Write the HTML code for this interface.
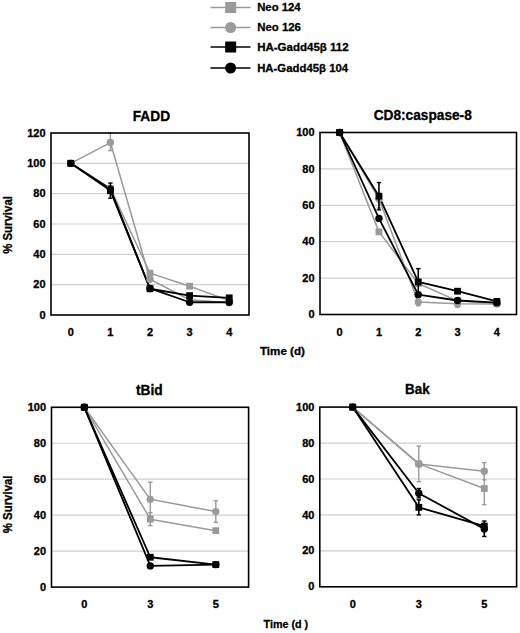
<!DOCTYPE html>
<html><head><meta charset="utf-8"><style>
html,body{margin:0;padding:0;background:#fff;}
body{width:520px;height:633px;overflow:hidden;}
svg{display:block;}
text{font-family:"Liberation Sans",sans-serif;font-weight:bold;fill:#000;stroke:#000;stroke-width:0.3px;}
.t{font-size:10px;}
.ti{font-size:13.4px;}
.ax{font-size:11px;}
.lg{font-size:11px;}
</style></head><body>
<svg width="520" height="633" viewBox="0 0 520 633">
<rect width="520" height="633" fill="#fff"/>
<line x1="51" x2="249" y1="284.67" y2="284.67" stroke="#cfcfcf" stroke-width="1.2"/>
<line x1="51" x2="249" y1="254.33" y2="254.33" stroke="#cfcfcf" stroke-width="1.2"/>
<line x1="51" x2="249" y1="224.00" y2="224.00" stroke="#cfcfcf" stroke-width="1.2"/>
<line x1="51" x2="249" y1="193.67" y2="193.67" stroke="#cfcfcf" stroke-width="1.2"/>
<line x1="51" x2="249" y1="163.33" y2="163.33" stroke="#cfcfcf" stroke-width="1.2"/>
<polyline points="70.80,163.33 110.40,188.36 150.00,273.14 189.60,286.18 229.20,300.59" fill="none" stroke="#9a9a9a" stroke-width="1.5" stroke-linejoin="round"/>
<polyline points="70.80,163.33 110.40,142.55 150.00,279.21 189.60,299.83 229.20,302.87" fill="none" stroke="#9a9a9a" stroke-width="1.5" stroke-linejoin="round"/>
<polyline points="70.80,163.33 110.40,190.63 150.00,288.76 189.60,295.59 229.20,297.86" fill="none" stroke="#000" stroke-width="1.8" stroke-linejoin="round"/>
<polyline points="70.80,163.33 110.40,189.12 150.00,288.46 189.60,302.26 229.20,302.26" fill="none" stroke="#000" stroke-width="1.8" stroke-linejoin="round"/>
<line x1="110.40" x2="110.40" y1="133.00" y2="150.59" stroke="#9a9a9a" stroke-width="1.4"/>
<line x1="108.20" x2="112.60" y1="133.00" y2="133.00" stroke="#9a9a9a" stroke-width="1.4"/>
<line x1="108.20" x2="112.60" y1="150.59" y2="150.59" stroke="#9a9a9a" stroke-width="1.4"/>
<circle cx="70.80" cy="163.33" r="3.70" fill="#9a9a9a"/>
<circle cx="110.40" cy="142.55" r="3.70" fill="#9a9a9a"/>
<circle cx="150.00" cy="279.21" r="3.70" fill="#9a9a9a"/>
<circle cx="189.60" cy="299.83" r="3.70" fill="#9a9a9a"/>
<circle cx="229.20" cy="302.87" r="3.70" fill="#9a9a9a"/>
<rect x="67.40" y="159.93" width="6.8" height="6.8" fill="#9a9a9a"/>
<rect x="107.00" y="184.96" width="6.8" height="6.8" fill="#9a9a9a"/>
<rect x="146.60" y="269.74" width="6.8" height="6.8" fill="#9a9a9a"/>
<rect x="186.20" y="282.78" width="6.8" height="6.8" fill="#9a9a9a"/>
<rect x="225.80" y="297.19" width="6.8" height="6.8" fill="#9a9a9a"/>
<circle cx="70.80" cy="163.33" r="3.70" fill="#000"/>
<circle cx="110.40" cy="189.12" r="3.70" fill="#000"/>
<circle cx="150.00" cy="288.46" r="3.70" fill="#000"/>
<circle cx="189.60" cy="302.26" r="3.70" fill="#000"/>
<circle cx="229.20" cy="302.26" r="3.70" fill="#000"/>
<line x1="110.40" x2="110.40" y1="183.05" y2="198.22" stroke="#000" stroke-width="1.6"/>
<line x1="108.20" x2="112.60" y1="183.05" y2="183.05" stroke="#000" stroke-width="1.4"/>
<line x1="108.20" x2="112.60" y1="198.22" y2="198.22" stroke="#000" stroke-width="1.4"/>
<rect x="67.40" y="159.93" width="6.8" height="6.8" fill="#000"/>
<rect x="107.00" y="187.23" width="6.8" height="6.8" fill="#000"/>
<rect x="146.60" y="285.36" width="6.8" height="6.8" fill="#000"/>
<rect x="186.20" y="292.19" width="6.8" height="6.8" fill="#000"/>
<rect x="225.80" y="294.46" width="6.8" height="6.8" fill="#000"/>
<rect x="51" y="133" width="198" height="182" fill="none" stroke="#000" stroke-width="1.6"/>
<text transform="matrix(1.1,0,0,1,45.60,318.60)" text-anchor="end" class="t">0</text>
<text transform="matrix(1.1,0,0,1,45.60,288.27)" text-anchor="end" class="t">20</text>
<text transform="matrix(1.1,0,0,1,45.60,257.93)" text-anchor="end" class="t">40</text>
<text transform="matrix(1.1,0,0,1,45.60,227.60)" text-anchor="end" class="t">60</text>
<text transform="matrix(1.1,0,0,1,45.60,197.27)" text-anchor="end" class="t">80</text>
<text transform="matrix(1.1,0,0,1,45.60,166.93)" text-anchor="end" class="t">100</text>
<text transform="matrix(1.1,0,0,1,45.60,136.60)" text-anchor="end" class="t">120</text>
<text transform="matrix(1.1,0,0,1,70.80,336.20)" text-anchor="middle" class="t">0</text>
<text transform="matrix(1.1,0,0,1,110.40,336.20)" text-anchor="middle" class="t">1</text>
<text transform="matrix(1.1,0,0,1,150.00,336.20)" text-anchor="middle" class="t">2</text>
<text transform="matrix(1.1,0,0,1,189.60,336.20)" text-anchor="middle" class="t">3</text>
<text transform="matrix(1.1,0,0,1,229.20,336.20)" text-anchor="middle" class="t">4</text>
<line x1="320" x2="516.5" y1="278.10" y2="278.10" stroke="#cfcfcf" stroke-width="1.2"/>
<line x1="320" x2="516.5" y1="241.70" y2="241.70" stroke="#cfcfcf" stroke-width="1.2"/>
<line x1="320" x2="516.5" y1="205.30" y2="205.30" stroke="#cfcfcf" stroke-width="1.2"/>
<line x1="320" x2="516.5" y1="168.90" y2="168.90" stroke="#cfcfcf" stroke-width="1.2"/>
<polyline points="339.65,132.50 378.95,231.87 418.25,283.56 457.55,300.85 496.85,303.58" fill="none" stroke="#9a9a9a" stroke-width="1.5" stroke-linejoin="round"/>
<polyline points="339.65,132.50 378.95,198.93 418.25,302.12 457.55,303.76 496.85,303.94" fill="none" stroke="#9a9a9a" stroke-width="1.5" stroke-linejoin="round"/>
<polyline points="339.65,132.50 378.95,196.20 418.25,281.92 457.55,291.20 496.85,301.40" fill="none" stroke="#000" stroke-width="1.8" stroke-linejoin="round"/>
<polyline points="339.65,132.50 378.95,218.40 418.25,294.66 457.55,300.49 496.85,302.67" fill="none" stroke="#000" stroke-width="1.8" stroke-linejoin="round"/>
<line x1="378.95" x2="378.95" y1="193.47" y2="208.03" stroke="#9a9a9a" stroke-width="1.4"/>
<line x1="376.75" x2="381.15" y1="193.47" y2="193.47" stroke="#9a9a9a" stroke-width="1.4"/>
<line x1="376.75" x2="381.15" y1="208.03" y2="208.03" stroke="#9a9a9a" stroke-width="1.4"/>
<line x1="418.25" x2="418.25" y1="302.12" y2="305.76" stroke="#9a9a9a" stroke-width="1.4"/>
<line x1="416.05" x2="420.45" y1="302.12" y2="302.12" stroke="#9a9a9a" stroke-width="1.4"/>
<line x1="416.05" x2="420.45" y1="305.76" y2="305.76" stroke="#9a9a9a" stroke-width="1.4"/>
<line x1="457.55" x2="457.55" y1="303.76" y2="307.40" stroke="#9a9a9a" stroke-width="1.4"/>
<line x1="455.35" x2="459.75" y1="303.76" y2="303.76" stroke="#9a9a9a" stroke-width="1.4"/>
<line x1="455.35" x2="459.75" y1="307.40" y2="307.40" stroke="#9a9a9a" stroke-width="1.4"/>
<circle cx="339.65" cy="132.50" r="3.70" fill="#9a9a9a"/>
<circle cx="378.95" cy="198.93" r="3.70" fill="#9a9a9a"/>
<circle cx="418.25" cy="302.12" r="3.70" fill="#9a9a9a"/>
<circle cx="457.55" cy="303.76" r="3.70" fill="#9a9a9a"/>
<circle cx="496.85" cy="303.94" r="3.70" fill="#9a9a9a"/>
<rect x="336.25" y="129.10" width="6.8" height="6.8" fill="#9a9a9a"/>
<rect x="375.55" y="228.47" width="6.8" height="6.8" fill="#9a9a9a"/>
<rect x="414.85" y="280.16" width="6.8" height="6.8" fill="#9a9a9a"/>
<rect x="454.15" y="297.45" width="6.8" height="6.8" fill="#9a9a9a"/>
<rect x="493.45" y="300.18" width="6.8" height="6.8" fill="#9a9a9a"/>
<circle cx="339.65" cy="132.50" r="3.70" fill="#000"/>
<circle cx="378.95" cy="218.40" r="3.70" fill="#000"/>
<circle cx="418.25" cy="294.66" r="3.70" fill="#000"/>
<circle cx="457.55" cy="300.49" r="3.70" fill="#000"/>
<circle cx="496.85" cy="302.67" r="3.70" fill="#000"/>
<line x1="378.95" x2="378.95" y1="182.55" y2="209.85" stroke="#000" stroke-width="1.6"/>
<line x1="376.75" x2="381.15" y1="182.55" y2="182.55" stroke="#000" stroke-width="1.4"/>
<line x1="376.75" x2="381.15" y1="209.85" y2="209.85" stroke="#000" stroke-width="1.4"/>
<line x1="418.25" x2="418.25" y1="268.64" y2="295.21" stroke="#000" stroke-width="1.6"/>
<line x1="416.05" x2="420.45" y1="268.64" y2="268.64" stroke="#000" stroke-width="1.4"/>
<line x1="416.05" x2="420.45" y1="295.21" y2="295.21" stroke="#000" stroke-width="1.4"/>
<rect x="336.25" y="129.10" width="6.8" height="6.8" fill="#000"/>
<rect x="375.55" y="192.80" width="6.8" height="6.8" fill="#000"/>
<rect x="414.85" y="278.52" width="6.8" height="6.8" fill="#000"/>
<rect x="454.15" y="287.80" width="6.8" height="6.8" fill="#000"/>
<rect x="493.45" y="298.00" width="6.8" height="6.8" fill="#000"/>
<rect x="320" y="132.5" width="196.5" height="182.0" fill="none" stroke="#000" stroke-width="1.6"/>
<text transform="matrix(1.1,0,0,1,314.60,318.10)" text-anchor="end" class="t">0</text>
<text transform="matrix(1.1,0,0,1,314.60,281.70)" text-anchor="end" class="t">20</text>
<text transform="matrix(1.1,0,0,1,314.60,245.30)" text-anchor="end" class="t">40</text>
<text transform="matrix(1.1,0,0,1,314.60,208.90)" text-anchor="end" class="t">60</text>
<text transform="matrix(1.1,0,0,1,314.60,172.50)" text-anchor="end" class="t">80</text>
<text transform="matrix(1.1,0,0,1,314.60,136.10)" text-anchor="end" class="t">100</text>
<text transform="matrix(1.1,0,0,1,339.65,335.70)" text-anchor="middle" class="t">0</text>
<text transform="matrix(1.1,0,0,1,378.95,335.70)" text-anchor="middle" class="t">1</text>
<text transform="matrix(1.1,0,0,1,418.25,335.70)" text-anchor="middle" class="t">2</text>
<text transform="matrix(1.1,0,0,1,457.55,335.70)" text-anchor="middle" class="t">3</text>
<text transform="matrix(1.1,0,0,1,496.85,335.70)" text-anchor="middle" class="t">4</text>
<line x1="51.5" x2="248.6" y1="551.14" y2="551.14" stroke="#cfcfcf" stroke-width="1.2"/>
<line x1="51.5" x2="248.6" y1="515.18" y2="515.18" stroke="#cfcfcf" stroke-width="1.2"/>
<line x1="51.5" x2="248.6" y1="479.22" y2="479.22" stroke="#cfcfcf" stroke-width="1.2"/>
<line x1="51.5" x2="248.6" y1="443.26" y2="443.26" stroke="#cfcfcf" stroke-width="1.2"/>
<polyline points="84.30,407.30 150.30,519.14 215.80,530.64" fill="none" stroke="#9a9a9a" stroke-width="1.5" stroke-linejoin="round"/>
<polyline points="84.30,407.30 150.30,499.36 215.80,511.58" fill="none" stroke="#9a9a9a" stroke-width="1.5" stroke-linejoin="round"/>
<polyline points="84.30,407.30 150.30,557.25 215.80,564.62" fill="none" stroke="#000" stroke-width="1.8" stroke-linejoin="round"/>
<polyline points="84.30,407.30 150.30,565.88 215.80,564.62" fill="none" stroke="#000" stroke-width="1.8" stroke-linejoin="round"/>
<line x1="150.30" x2="150.30" y1="482.28" y2="516.44" stroke="#9a9a9a" stroke-width="1.4"/>
<line x1="148.10" x2="152.50" y1="482.28" y2="482.28" stroke="#9a9a9a" stroke-width="1.4"/>
<line x1="148.10" x2="152.50" y1="516.44" y2="516.44" stroke="#9a9a9a" stroke-width="1.4"/>
<line x1="215.80" x2="215.80" y1="500.80" y2="522.37" stroke="#9a9a9a" stroke-width="1.4"/>
<line x1="213.60" x2="218.00" y1="500.80" y2="500.80" stroke="#9a9a9a" stroke-width="1.4"/>
<line x1="213.60" x2="218.00" y1="522.37" y2="522.37" stroke="#9a9a9a" stroke-width="1.4"/>
<circle cx="84.30" cy="407.30" r="3.70" fill="#9a9a9a"/>
<circle cx="150.30" cy="499.36" r="3.70" fill="#9a9a9a"/>
<circle cx="215.80" cy="511.58" r="3.70" fill="#9a9a9a"/>
<line x1="150.30" x2="150.30" y1="512.66" y2="525.61" stroke="#9a9a9a" stroke-width="1.4"/>
<line x1="148.10" x2="152.50" y1="512.66" y2="512.66" stroke="#9a9a9a" stroke-width="1.4"/>
<line x1="148.10" x2="152.50" y1="525.61" y2="525.61" stroke="#9a9a9a" stroke-width="1.4"/>
<rect x="80.90" y="403.90" width="6.8" height="6.8" fill="#9a9a9a"/>
<rect x="146.90" y="515.74" width="6.8" height="6.8" fill="#9a9a9a"/>
<rect x="212.40" y="527.24" width="6.8" height="6.8" fill="#9a9a9a"/>
<circle cx="84.30" cy="407.30" r="3.70" fill="#000"/>
<circle cx="150.30" cy="565.88" r="3.70" fill="#000"/>
<circle cx="215.80" cy="564.62" r="3.70" fill="#000"/>
<rect x="80.90" y="403.90" width="6.8" height="6.8" fill="#000"/>
<rect x="146.90" y="553.85" width="6.8" height="6.8" fill="#000"/>
<rect x="212.40" y="561.23" width="6.8" height="6.8" fill="#000"/>
<rect x="51.5" y="407.3" width="197.1" height="179.8" fill="none" stroke="#000" stroke-width="1.6"/>
<text transform="matrix(1.1,0,0,1,46.10,590.70)" text-anchor="end" class="t">0</text>
<text transform="matrix(1.1,0,0,1,46.10,554.74)" text-anchor="end" class="t">20</text>
<text transform="matrix(1.1,0,0,1,46.10,518.78)" text-anchor="end" class="t">40</text>
<text transform="matrix(1.1,0,0,1,46.10,482.82)" text-anchor="end" class="t">60</text>
<text transform="matrix(1.1,0,0,1,46.10,446.86)" text-anchor="end" class="t">80</text>
<text transform="matrix(1.1,0,0,1,46.10,410.90)" text-anchor="end" class="t">100</text>
<text transform="matrix(1.1,0,0,1,84.30,608.30)" text-anchor="middle" class="t">0</text>
<text transform="matrix(1.1,0,0,1,150.30,608.30)" text-anchor="middle" class="t">3</text>
<text transform="matrix(1.1,0,0,1,215.80,608.30)" text-anchor="middle" class="t">5</text>
<line x1="319.8" x2="516.6" y1="550.86" y2="550.86" stroke="#cfcfcf" stroke-width="1.2"/>
<line x1="319.8" x2="516.6" y1="514.92" y2="514.92" stroke="#cfcfcf" stroke-width="1.2"/>
<line x1="319.8" x2="516.6" y1="478.98" y2="478.98" stroke="#cfcfcf" stroke-width="1.2"/>
<line x1="319.8" x2="516.6" y1="443.04" y2="443.04" stroke="#cfcfcf" stroke-width="1.2"/>
<polyline points="352.70,407.10 418.80,463.89 484.30,488.50" fill="none" stroke="#9a9a9a" stroke-width="1.5" stroke-linejoin="round"/>
<polyline points="352.70,407.10 418.80,463.89 484.30,471.25" fill="none" stroke="#9a9a9a" stroke-width="1.5" stroke-linejoin="round"/>
<polyline points="352.70,407.10 418.80,507.37 484.30,526.06" fill="none" stroke="#000" stroke-width="1.8" stroke-linejoin="round"/>
<polyline points="352.70,407.10 418.80,493.18 484.30,528.94" fill="none" stroke="#000" stroke-width="1.8" stroke-linejoin="round"/>
<line x1="484.30" x2="484.30" y1="462.63" y2="479.88" stroke="#9a9a9a" stroke-width="1.4"/>
<line x1="482.10" x2="486.50" y1="462.63" y2="462.63" stroke="#9a9a9a" stroke-width="1.4"/>
<line x1="482.10" x2="486.50" y1="479.88" y2="479.88" stroke="#9a9a9a" stroke-width="1.4"/>
<circle cx="352.70" cy="407.10" r="3.70" fill="#9a9a9a"/>
<circle cx="418.80" cy="463.89" r="3.70" fill="#9a9a9a"/>
<circle cx="484.30" cy="471.25" r="3.70" fill="#9a9a9a"/>
<line x1="418.80" x2="418.80" y1="446.09" y2="481.68" stroke="#9a9a9a" stroke-width="1.4"/>
<line x1="416.60" x2="421.00" y1="446.09" y2="446.09" stroke="#9a9a9a" stroke-width="1.4"/>
<line x1="416.60" x2="421.00" y1="481.68" y2="481.68" stroke="#9a9a9a" stroke-width="1.4"/>
<line x1="484.30" x2="484.30" y1="472.33" y2="504.68" stroke="#9a9a9a" stroke-width="1.4"/>
<line x1="482.10" x2="486.50" y1="472.33" y2="472.33" stroke="#9a9a9a" stroke-width="1.4"/>
<line x1="482.10" x2="486.50" y1="504.68" y2="504.68" stroke="#9a9a9a" stroke-width="1.4"/>
<rect x="349.30" y="403.70" width="6.8" height="6.8" fill="#9a9a9a"/>
<rect x="415.40" y="460.49" width="6.8" height="6.8" fill="#9a9a9a"/>
<rect x="480.90" y="485.10" width="6.8" height="6.8" fill="#9a9a9a"/>
<line x1="418.80" x2="418.80" y1="488.50" y2="497.85" stroke="#000" stroke-width="1.6"/>
<line x1="416.60" x2="421.00" y1="488.50" y2="488.50" stroke="#000" stroke-width="1.4"/>
<line x1="416.60" x2="421.00" y1="497.85" y2="497.85" stroke="#000" stroke-width="1.4"/>
<line x1="484.30" x2="484.30" y1="528.94" y2="536.48" stroke="#000" stroke-width="1.6"/>
<line x1="482.10" x2="486.50" y1="528.94" y2="528.94" stroke="#000" stroke-width="1.4"/>
<line x1="482.10" x2="486.50" y1="536.48" y2="536.48" stroke="#000" stroke-width="1.4"/>
<circle cx="352.70" cy="407.10" r="3.70" fill="#000"/>
<circle cx="418.80" cy="493.18" r="3.70" fill="#000"/>
<circle cx="484.30" cy="528.94" r="3.70" fill="#000"/>
<line x1="418.80" x2="418.80" y1="499.83" y2="514.92" stroke="#000" stroke-width="1.6"/>
<line x1="416.60" x2="421.00" y1="499.83" y2="499.83" stroke="#000" stroke-width="1.4"/>
<line x1="416.60" x2="421.00" y1="514.92" y2="514.92" stroke="#000" stroke-width="1.4"/>
<line x1="484.30" x2="484.30" y1="521.03" y2="526.06" stroke="#000" stroke-width="1.6"/>
<line x1="482.10" x2="486.50" y1="521.03" y2="521.03" stroke="#000" stroke-width="1.4"/>
<line x1="482.10" x2="486.50" y1="526.06" y2="526.06" stroke="#000" stroke-width="1.4"/>
<rect x="349.30" y="403.70" width="6.8" height="6.8" fill="#000"/>
<rect x="415.40" y="503.97" width="6.8" height="6.8" fill="#000"/>
<rect x="480.90" y="522.66" width="6.8" height="6.8" fill="#000"/>
<rect x="319.8" y="407.1" width="196.8" height="179.69999999999993" fill="none" stroke="#000" stroke-width="1.6"/>
<text transform="matrix(1.1,0,0,1,314.40,590.40)" text-anchor="end" class="t">0</text>
<text transform="matrix(1.1,0,0,1,314.40,554.46)" text-anchor="end" class="t">20</text>
<text transform="matrix(1.1,0,0,1,314.40,518.52)" text-anchor="end" class="t">40</text>
<text transform="matrix(1.1,0,0,1,314.40,482.58)" text-anchor="end" class="t">60</text>
<text transform="matrix(1.1,0,0,1,314.40,446.64)" text-anchor="end" class="t">80</text>
<text transform="matrix(1.1,0,0,1,314.40,410.70)" text-anchor="end" class="t">100</text>
<text transform="matrix(1.1,0,0,1,352.70,608.00)" text-anchor="middle" class="t">0</text>
<text transform="matrix(1.1,0,0,1,418.80,608.00)" text-anchor="middle" class="t">3</text>
<text transform="matrix(1.1,0,0,1,484.30,608.00)" text-anchor="middle" class="t">5</text>
<text transform="matrix(1.0376,0,0,1,259.94,354.5)" style="font-size:11.2px">Time (d)</text>
<text transform="matrix(0.9617,0,0,1,263.56,627.5)" style="font-size:11.2px">Time (d )</text>
<text transform="translate(11.6,253.85) rotate(-90) scale(0.9939,1.0424)" style="font-size:11.5px">% Survival</text>
<text transform="translate(11.6,533.35) rotate(-90) scale(0.9956,1.0424)" style="font-size:11.5px">% Survival</text>
<text transform="matrix(0.9944,0,0,1,132.71,120.6)" style="font-size:13.8px">FADD</text>
<text transform="matrix(0.9918,0,0,1,373.70,120.2)" style="font-size:13.8px">CD8:caspase-8</text>
<text transform="matrix(0.9981,0,0,1,135.95,394.6)" style="font-size:13.8px">tBid</text>
<text transform="matrix(0.9732,0,0,1,405.03,394.2)" style="font-size:13.8px">Bak</text>
<line x1="210.5" x2="250.5" y1="7.5" y2="7.5" stroke="#9a9a9a" stroke-width="1.3"/>
<rect x="225.2" y="2.0" width="11" height="11" fill="#9a9a9a"/>
<text transform="matrix(1.0047,0,0,1,257.15,10.6)" style="font-size:11.3px">Neo 124</text>
<line x1="210.5" x2="250.5" y1="27.5" y2="27.5" stroke="#9a9a9a" stroke-width="1.3"/>
<circle cx="230.6" cy="27.5" r="5.5" fill="#9a9a9a"/>
<text transform="matrix(1.0107,0,0,1,257.14,30.8)" style="font-size:11.3px">Neo 126</text>
<line x1="210.5" x2="250.5" y1="47" y2="47" stroke="#000" stroke-width="1.7"/>
<rect x="225.2" y="41.5" width="11" height="11" fill="#000"/>
<text transform="matrix(1.0203,0,0,1,257.13,51)" style="font-size:11.3px">HA-Gadd45β 112</text>
<line x1="210.5" x2="250.5" y1="68" y2="68" stroke="#000" stroke-width="1.7"/>
<circle cx="230.6" cy="68" r="5.5" fill="#000"/>
<text transform="matrix(1.0067,0,0,1,257.14,71.7)" style="font-size:11.3px">HA-Gadd45β 104</text>
</svg>
</body></html>
